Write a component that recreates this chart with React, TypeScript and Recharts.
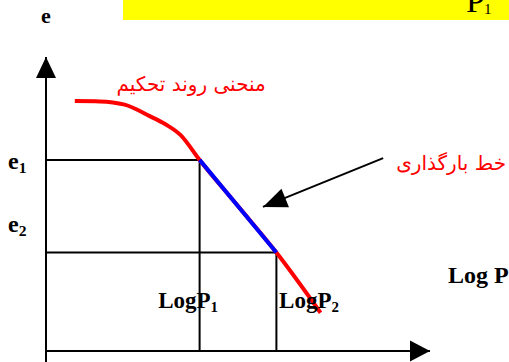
import React from 'react'
import { ComposedChart, Line, XAxis, YAxis, ReferenceLine, ReferenceDot } from 'recharts'

// e - log P consolidation curve
const curveLogP = [0.75, 1.4, 2.05, 2.7, 3.1, 3.5, 4.0, 5.0, 6.0, 7.15]
const curveE = [8.5, 8.49, 8.38, 7.99, 7.72, 7.35, 6.5, 4.93, 3.35, 1.3]
// loading line between the two states
const loadLogP = [4.0, 6.0]
const loadE = [6.5, 3.35]

const logP1 = 4.0
const logP2 = 6.0
const e1 = 6.5
const e2 = 3.35

const curveData = curveLogP.map((x, i) => ({ x, e: curveE[i] }))
const loadData = loadLogP.map((x, i) => ({ x, e: loadE[i] }))

const W = 509
const H = 362
const margin = { top: 57, right: 79, bottom: 11, left: 46 }
const pxPerX = (W - margin.left - margin.right) / 10
const pxPerY = (H - margin.top - margin.bottom) / 10

// annotation arrow (points at the loading line)
const arrowTail = { x: 8.78, y: 6.56 }
const arrowTip = { x: 5.65, y: 4.9 }
const arrowAngle = Math.atan2(-(arrowTip.y - arrowTail.y) * pxPerY, (arrowTip.x - arrowTail.x) * pxPerX)

const serif = '"Liberation Serif", "Times New Roman", serif'
const persian = '"DejaVu Sans", sans-serif'

const arrowHead = (angle: number, len: number, half: number) => (props: any) => {
  const { cx, cy } = props
  const ux = Math.cos(angle)
  const uy = Math.sin(angle)
  const bx = cx - ux * len
  const by = cy - uy * len
  const pts = `${cx},${cy} ${bx - uy * half},${by + ux * half} ${bx + uy * half},${by - ux * half}`
  return <polygon points={pts} fill="#000" />
}

const mathLabel = (main: string, sub: string | null, size: number, anchor: 'start' | 'middle' = 'start') => (props: any) => (
  <text x={props.cx} y={props.cy} fontFamily={serif} fontWeight="bold" fontSize={size} fill="#000" textAnchor={anchor}>
    {main}
    {sub && <tspan fontSize={size * 0.65} dy={4}>{sub}</tspan>}
  </text>
)

const redLabel = (txt: string) => (props: any) => (
  <text x={props.cx} y={props.cy} fontFamily={persian} fontSize={20} fill="#ff0000" textAnchor="middle">
    {txt}
  </text>
)

export default function App() {
  return (
    <div style={{ position: 'absolute', left: 0, top: 0, width: W, height: H, background: '#fff', overflow: 'hidden' }}>
      <svg width={W} height={22} style={{ position: 'absolute', left: 0, top: 0 }}>
        <rect x={123} y={0} width={386} height={20} fill="#ffff00" />
        <text x={466} y={12} fontFamily={serif} fontSize={34} fill="#000">P</text>
        <text x={484} y={14} fontFamily={serif} fontSize={15} fill="#000">1</text>
      </svg>
      <ComposedChart width={W} height={H} margin={margin} style={{ position: 'absolute', left: 0, top: 0 }}>
        <XAxis type="number" dataKey="x" domain={[0, 10]} allowDataOverflow hide />
        <YAxis type="number" dataKey="e" domain={[0, 10]} allowDataOverflow hide />

        {/* axes */}
        <ReferenceLine segment={[{ x: 0, y: -0.5 }, { x: 0, y: 10 }]} stroke="#000" strokeWidth={2} ifOverflow="visible" />
        <ReferenceLine segment={[{ x: 0, y: 0 }, { x: 10, y: 0 }]} stroke="#000" strokeWidth={2} ifOverflow="visible" />
        <ReferenceDot x={0} y={10} r={0} ifOverflow="visible" shape={arrowHead(-Math.PI / 2, 21, 10)} />
        <ReferenceDot x={10} y={0} r={0} ifOverflow="visible" shape={arrowHead(0, 20, 10.5)} />

        {/* guide lines */}
        <ReferenceLine segment={[{ x: 0, y: e1 }, { x: logP1, y: e1 }]} stroke="#000" strokeWidth={2} ifOverflow="visible" />
        <ReferenceLine segment={[{ x: logP1, y: e1 }, { x: logP1, y: 0 }]} stroke="#000" strokeWidth={2} ifOverflow="visible" />
        <ReferenceLine segment={[{ x: 0, y: e2 }, { x: logP2, y: e2 }]} stroke="#000" strokeWidth={2} ifOverflow="visible" />
        <ReferenceLine segment={[{ x: logP2, y: e2 }, { x: logP2, y: 0 }]} stroke="#000" strokeWidth={2} ifOverflow="visible" />

        <Line data={curveData} dataKey="e" type="monotone" stroke="#ff0000" strokeWidth={4} dot={false} isAnimationActive={false} />
        <Line data={loadData} dataKey="e" type="linear" stroke="#0000ff" strokeWidth={4} dot={false} isAnimationActive={false} />

        {/* annotation arrow */}
        <ReferenceLine segment={[arrowTail, arrowTip]} stroke="#000" strokeWidth={2} ifOverflow="visible" />
        <ReferenceDot x={arrowTip.x} y={arrowTip.y} r={0} ifOverflow="visible" shape={arrowHead(arrowAngle, 24, 10)} />

        {/* labels */}
        <ReferenceDot x={0} y={11.16} r={0} ifOverflow="visible" shape={mathLabel('e', null, 22, 'middle')} />
        <ReferenceDot x={-0.99} y={6.19} r={0} ifOverflow="visible" shape={mathLabel('e', '1', 24)} />
        <ReferenceDot x={-0.99} y={4.05} r={0} ifOverflow="visible" shape={mathLabel('e', '2', 24)} />
        <ReferenceDot x={2.92} y={1.46} r={0} ifOverflow="visible" shape={mathLabel('LogP', '1', 23)} />
        <ReferenceDot x={6.07} y={1.46} r={0} ifOverflow="visible" shape={mathLabel('LogP', '2', 23)} />
        <ReferenceDot x={10.47} y={2.31} r={0} ifOverflow="visible" shape={mathLabel('Log P', null, 24)} />
        <ReferenceDot x={3.78} y={8.84} r={0} ifOverflow="visible" shape={redLabel('منحنی روند تحکیم')} />
        <ReferenceDot x={10.55} y={6.16} r={0} ifOverflow="visible" shape={redLabel('خط بارگذاری')} />
      </ComposedChart>
    </div>
  )
}
